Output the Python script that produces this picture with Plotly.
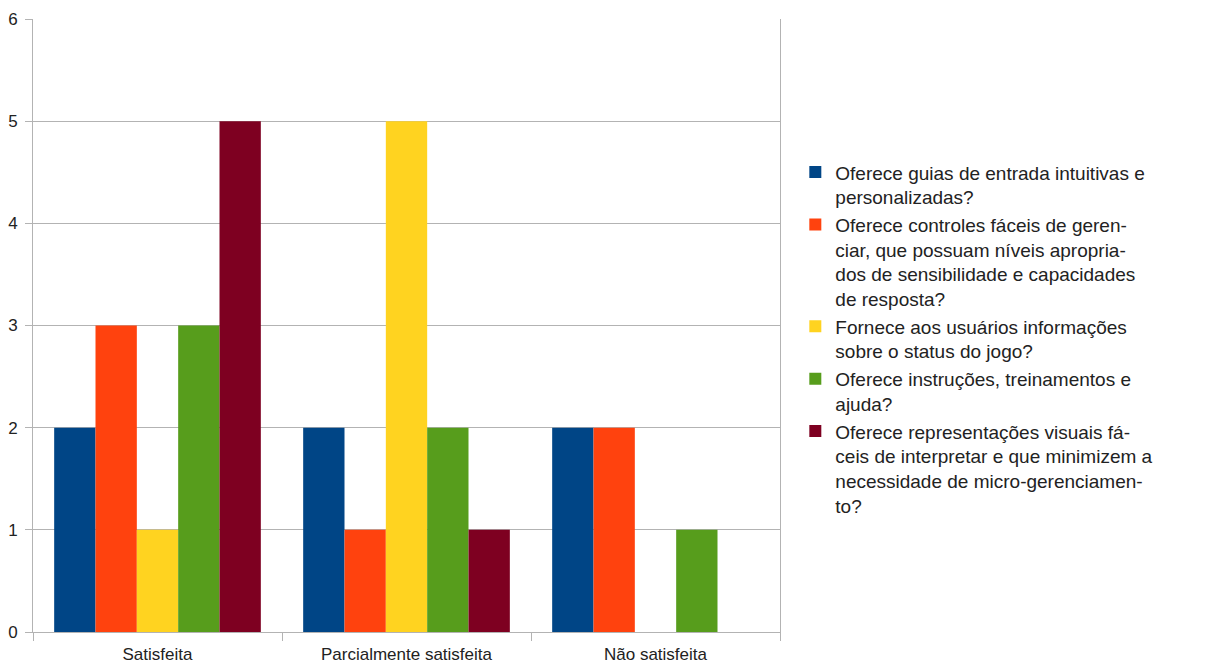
import plotly.graph_objects as go

categories = ["Satisfeita", "Parcialmente satisfeita", "Não satisfeita"]

series_names = [
    "Oferece guias de entrada intuitivas e<br>personalizadas?",
    "Oferece controles fáceis de geren-<br>ciar, que possuam níveis apropria-<br>dos de sensibilidade e capacidades<br>de resposta?",
    "Fornece aos usuários informações<br>sobre o status do jogo?",
    "Oferece instruções, treinamentos e<br>ajuda?",
    "Oferece representações visuais fá-<br>ceis de interpretar e que minimizem a<br>necessidade de micro-gerenciamen-<br>to?",
]

guias = [2, 2, 2]
controles = [3, 1, 2]
status_jogo = [1, 5, 0]
instrucoes = [3, 2, 1]
representacoes = [5, 1, 0]

series_values = [guias, controles, status_jogo, instrucoes, representacoes]
colors = ["#004586", "#ff420e", "#ffd320", "#579d1c", "#7e0021"]

fig = go.Figure()
for name, vals, col in zip(series_names, series_values, colors):
    fig.add_trace(go.Bar(x=categories, y=vals, name=name, marker_color=col,
                         marker_line_width=0))

grid = "#b3b3b3"
fig.update_layout(
    width=1204, height=656,
    margin=dict(l=25, r=432, t=11, b=32, autoexpand=False),
    paper_bgcolor="white", plot_bgcolor="white",
    barmode="group", bargap=0.17, bargroupgap=0,
    font=dict(family="Liberation Sans", color="#222222"),
    legend=dict(x=1.0205, xanchor="left", y=0.781, yanchor="top",
                valign="top", font=dict(size=19, family="Liberation Sans", color="#222222"),
                itemwidth=30, tracegroupgap=0, bgcolor="rgba(0,0,0,0)"),
    showlegend=True,
)
fig.update_yaxes(range=[0, 6], dtick=1, tick0=0, gridcolor=grid, gridwidth=1,
                 showline=True, linecolor=grid, linewidth=1, mirror=True,
                 ticks="outside", ticklen=7, tickcolor=grid, ticklabelstandoff=4,
                 tickfont=dict(size=17), zeroline=False, fixedrange=True,
                 automargin=False)
fig.update_xaxes(showline=True, linecolor=grid, linewidth=1,
                 ticks="outside", ticklen=8, tickcolor=grid, tickson="boundaries",
                 ticklabelstandoff=7, automargin=False,
                 tickfont=dict(size=17), showgrid=False)

fig.write_html("out.html")
